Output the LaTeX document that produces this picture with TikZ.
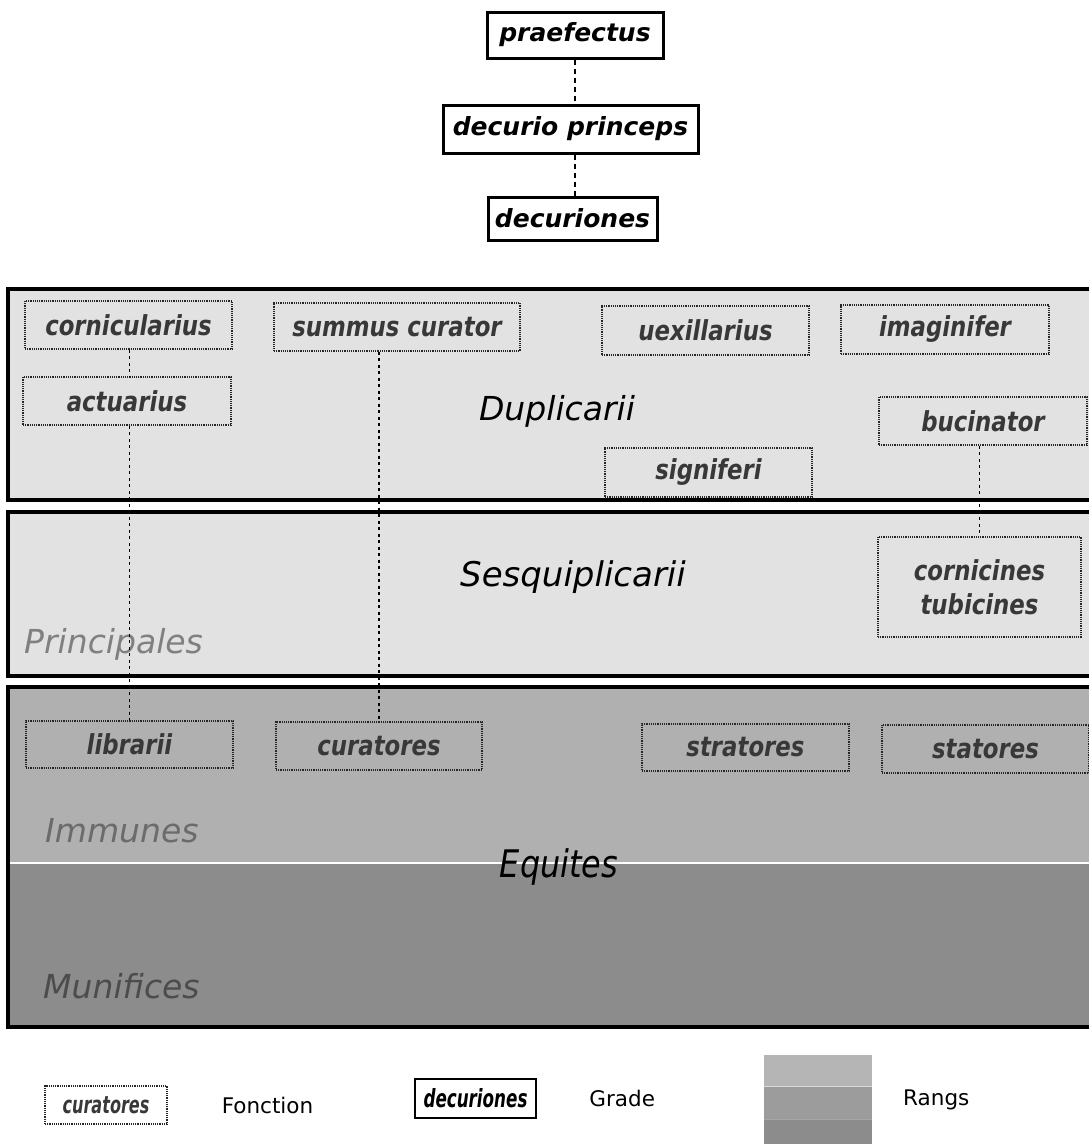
\documentclass[tikz,border=0pt]{standalone}
\usepackage{fontspec}
\setmainfont{DejaVu Sans}
\newfontfamily\fonctionfont[FakeStretch = 0.83]{DejaVu Sans}
\newfontfamily\legendefont[FakeStretch = 0.67]{DejaVu Sans}
\newfontfamily\equitesfont[FakeStretch = 0.84]{DejaVu Sans}
\usetikzlibrary{positioning}

\definecolor{principalesfond}{HTML}{E2E2E2}
\definecolor{immunesfond}{HTML}{B0B0B0}
\definecolor{munificesfond}{HTML}{8C8C8C}

\begin{document}
\begin{tikzpicture}[x = 1pt, y = -1pt,
		fonction/.style = {draw = black!85, densely dotted, line width = 1.2pt, inner sep = 0pt,
			minimum width = 207, minimum height = 48, text = black!78,
			font = \fonctionfont\fontsize{27.5}{34}\selectfont\bfseries\itshape},
		grade/.style = {draw = black, line width = 3pt, fill = white, inner sep = 0pt,
			font = \fontsize{25}{28}\selectfont\bfseries\itshape},
		bande/.style = {draw = black, line width = 3.5pt},
		rang/.style = {font = \fontsize{33}{38}\selectfont\itshape},
		lien/.style = {black, dash pattern = on 3pt off 3.5pt, line width = 1.3pt},
		liengrade/.style = {black, dash pattern = on 5pt off 4pt, line width = 1.8pt},
		legende/.style = {inner sep = 0pt, font = \fontsize{21.5}{24}\selectfont}]
	\useasboundingbox (0, 0) rectangle (1089, 1144);
	\clip (0, 0) rectangle (1089, 1144);

	% grades
	\node [grade, minimum width = 176, minimum height = 46] (praef) at (575, 35) {praefectus};
	\node [grade, minimum width = 255, minimum height = 48] (princ) at (570.5, 129) {decurio princeps};
	\node [grade, minimum width = 169, minimum height = 43] (decur) at (572.5, 218.5) {decuriones};
	\draw [liengrade] (praef.south) -- (praef.south |- princ.north);
	\draw [liengrade] (praef.south |- princ.south) -- (praef.south |- decur.north);

	% rangs
	\draw [bande, fill = principalesfond] (8, 289) rectangle (1100, 500);
	\draw [bande, fill = principalesfond] (8, 512) rectangle (1100, 676);
	\fill [immunesfond] (8, 687) rectangle (1100, 863);
	\fill [munificesfond] (8, 863) rectangle (1100, 1027);
	\draw [white, line width = 1.5pt] (8, 863) -- (1100, 863);
	\draw [bande] (8, 687) rectangle (1100, 1027);

	\node [rang, anchor = base] at (557, 420) {Duplicarii};
	\node [rang, font = \fontsize{34}{38}\selectfont\itshape, anchor = base] at (573, 586) {Sesquiplicarii};
	\node [rang, anchor = base west, inner sep = 0pt, text = black!50] at (24, 653) {Principales};
	\node [rang, anchor = base west, inner sep = 0pt, text = black!58] at (45, 842) {Immunes};
	\node [rang, font = \equitesfont\fontsize{38}{40}\selectfont\itshape, anchor = base] at (559, 877) {Equites};
	\node [rang, anchor = base west, inner sep = 0pt, text = black!70] at (43, 998) {Munifices};

	% fonctions
	\node [fonction] (cornic) at (128.5, 325) {cornicularius};
	\node [fonction, minimum width = 246] (summus) at (397, 327) {summus curator};
	\node [fonction, minimum height = 49] (uexil) at (705.5, 330.5) {uexillarius};
	\node [fonction, minimum width = 208, minimum height = 49] (imagin) at (945, 329.5) {imaginifer};
	\node [fonction, minimum width = 208] (actuar) at (127, 401) {actuarius};
	\node [fonction, minimum width = 208] (bucin) at (983, 421) {bucinator};
	\node [fonction, minimum height = 49] (signif) at (708.5, 472.5) {signiferi};
	\node [fonction, minimum width = 203, minimum height = 100, align = center] (cornicines) at (979.5, 587) {cornicines\\tubicines};
	\node [fonction, minimum height = 47] (librar) at (129.5, 744.5) {librarii};
	\node [fonction, minimum width = 206] (curat) at (379, 746) {curatores};
	\node [fonction, minimum height = 47] (strat) at (745.5, 747.5) {stratores};
	\node [fonction] (stat) at (985.5, 749) {statores};

	\draw [lien] (librar.north |- cornic.south) -- (librar.north |- actuar.north);
	\draw [lien] (librar.north |- actuar.south) -- (librar.north);
	\draw [lien] (curat.north |- summus.south) -- (curat.north);
	\draw [lien] (cornicines.north |- bucin.south) -- (cornicines.north);

	% legende
	\node [fonction, minimum width = 122, minimum height = 38,
		font = \legendefont\fontsize{24}{26}\selectfont\bfseries\itshape] (legfonction) at (106, 1105) {curatores};
	\node [legende, right = 54pt of legfonction] (fonctiontxt) {Fonction};
	\node [grade, line width = 2.5pt, minimum width = 121, minimum height = 39,
		font = \legendefont\fontsize{25}{27}\selectfont\bfseries\itshape] (leggrade) at (475.5, 1098.5) {decuriones};
	\node [legende, right = 52pt of leggrade] (gradetxt) {Grade};
	\fill [black!29] (764, 1055) rectangle (872, 1086);
	\fill [black!39] (764, 1086) rectangle (872, 1119);
	\fill [munificesfond] (764, 1119) rectangle (872, 1150);
	\draw [white!85!black, line width = 1pt] (764, 1086) -- (872, 1086);
	\draw [black!35, line width = 0.8pt] (764, 1119) -- (872, 1119);
	\node [legende, anchor = west] (rangstxt) at (903, 1100) {Rangs};
\end{tikzpicture}
\end{document}
